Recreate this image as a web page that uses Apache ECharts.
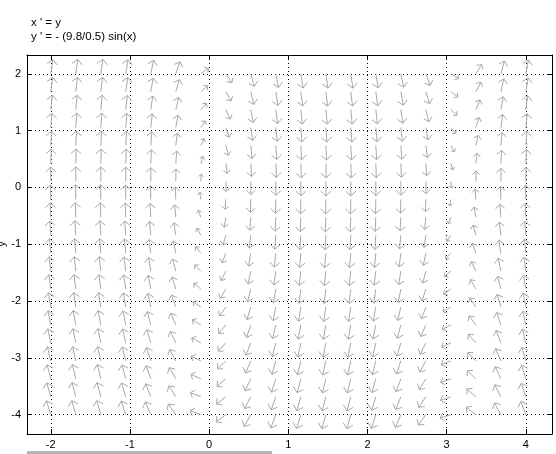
<!DOCTYPE html>
<html>
<head>
<meta charset="utf-8">
<script src="https://cdn.jsdelivr.net/npm/echarts@6/dist/echarts.min.js"></script>
<style>
  html, body { margin: 0; padding: 0; background: #ffffff; }
  #chart { width: 556px; height: 454px; }
</style>
</head>
<body>
<div id="chart"></div>
<script>
// ---- Data (pplane-style direction field) ----
const titleLines = ["x ' = y", "y ' = - (9.8/0.5) sin(x)"];
const axisNameY = "y";

// Arrow grid: column x positions and row y positions
const colX = [-2, -1.684, -1.368, -1.053, -0.737, -0.421, -0.105, 0.211, 0.526, 0.842,
              1.158, 1.474, 1.789, 2.105, 2.421, 2.737, 3.053, 3.368, 3.684, 4];
const rowY = [-4, -3.684, -3.368, -3.053, -2.737, -2.421, -2.105, -1.789, -1.474, -1.158,
              -0.842, -0.526, -0.211, 0.105, 0.421, 0.737, 1.053, 1.368, 1.684, 2];
// x' for each row (x' = y)
const rowXPrime = [-4, -3.684, -3.368, -3.053, -2.737, -2.421, -2.105, -1.789, -1.474, -1.158,
                   -0.842, -0.526, -0.211, 0.105, 0.421, 0.737, 1.053, 1.368, 1.684, 2];
// y' for each column (y' = -(9.8/0.5) sin(x))
const colYPrime = [17.82, 19.47, 19.20, 17.03, 13.17, 8.01, 2.06, -4.10, -9.85, -14.62,
                   -17.95, -19.51, -19.13, -16.87, -12.93, -7.72, -1.74, 4.41, 10.12, 14.83];

// Tick labels
const xTicks = [-2, -1, 0, 1, 2, 3, 4];
const yTicks = [-4, -3, -2, -1, 0, 1, 2];

// Axis window
const xRange = [-2.3, 4.33];
const yRange = [-4.34, 2.33];

// ---- Build the data table ----
const field = [];
for (let i = 0; i < colX.length; i++) {
  for (let j = 0; j < rowY.length; j++) {
    field.push([colX[i], rowY[j], rowXPrime[j], colYPrime[i]]);
  }
}

const ARROW_COLOR = '#a8a8a8';
const LMAX = 16.5, S0 = 150;

function renderArrow(params, api) {
  const x = api.value(0), y = api.value(1), vx = api.value(2), vy = api.value(3);
  const p0 = api.coord([x, y]);
  const p1 = api.coord([x + vx, y + vy]);
  const sx = p1[0] - p0[0], sy = p1[1] - p0[1];
  const S = Math.hypot(sx, sy);
  if (S === 0) return null;
  const ux = sx / S, uy = sy / S;
  const L = LMAX * S / (S + S0);
  const tip = [p0[0] + ux * L, p0[1] + uy * L];
  const back = 0.33 * L, lat = 0.35 * L;
  const w1 = [tip[0] - ux * back - uy * lat, tip[1] - uy * back + ux * lat];
  const w2 = [tip[0] - ux * back + uy * lat, tip[1] - uy * back - ux * lat];
  return {
    type: 'group',
    children: [
      { type: 'line', shape: { x1: p0[0], y1: p0[1], x2: tip[0], y2: tip[1] },
        style: { stroke: ARROW_COLOR, lineWidth: 1, fill: null } },
      { type: 'polyline', shape: { points: [w1, tip, w2] },
        style: { stroke: ARROW_COLOR, lineWidth: 1, fill: null } }
    ]
  };
}

const FONT = '"Liberation Sans", Arial, Helvetica, sans-serif';
const dotted = { show: true, lineStyle: { color: '#000', width: 1, type: [1, 3] } };
const frameLine = { show: true, onZero: false, lineStyle: { color: '#000', width: 1 } };
const tickIn = { show: true, inside: true, length: 5, lineStyle: { color: '#000', width: 1 } };

const chart = echarts.init(document.getElementById('chart'), null, { renderer: 'canvas' });
chart.setOption({
  animation: false,
  backgroundColor: '#ffffff',
  title: {
    text: titleLines.join('\n'),
    left: 31, top: 16, padding: 0,
    textStyle: { fontFamily: FONT, fontSize: 11.5, fontWeight: 'normal', color: '#000', lineHeight: 14 }
  },
  grid: { left: 27, top: 55, right: 4, bottom: 20, containLabel: false, outerBoundsMode: 'none' },
  xAxis: [
    {
      type: 'value', position: 'bottom', min: xRange[0], max: xRange[1],
      minInterval: 1, maxInterval: 1,
      axisLine: frameLine, axisTick: tickIn,
      axisLabel: {
        show: true, margin: 5, fontFamily: FONT, fontSize: 11, color: '#000',
        showMinLabel: false, showMaxLabel: false,
        formatter: v => (xTicks.some(t => Math.abs(t - v) < 1e-6) ? String(Math.round(v)) : '')
      },
      splitLine: dotted
    },
    {
      type: 'value', position: 'top', min: xRange[0], max: xRange[1],
      minInterval: 1, maxInterval: 1,
      axisLine: frameLine, axisTick: tickIn, axisLabel: { show: false }, splitLine: { show: false }
    }
  ],
  yAxis: [
    {
      type: 'value', position: 'left', min: yRange[0], max: yRange[1],
      minInterval: 1, maxInterval: 1,
      axisLine: frameLine, axisTick: tickIn,
      axisLabel: {
        show: true, margin: 6, fontFamily: FONT, fontSize: 11, color: '#000',
        showMinLabel: false, showMaxLabel: false,
        formatter: v => (yTicks.some(t => Math.abs(t - v) < 1e-6) ? String(Math.round(v)) : '')
      },
      splitLine: dotted
    },
    {
      type: 'value', position: 'right', min: yRange[0], max: yRange[1],
      minInterval: 1, maxInterval: 1,
      axisLine: frameLine, axisTick: tickIn, axisLabel: { show: false }, splitLine: { show: false }
    }
  ],
  graphic: [
    { type: 'rect', left: 27, top: 451, shape: { width: 245, height: 3 },
      style: { fill: '#b4b4b4' }, silent: true },
    { type: 'text', x: 2, y: 244, rotation: Math.PI / 2, silent: true,
      style: { text: axisNameY, font: '11px ' + FONT, fill: '#000',
               align: 'center', verticalAlign: 'middle' } }
  ],
  series: [
    {
      type: 'custom',
      xAxisIndex: 0, yAxisIndex: 0,
      renderItem: renderArrow,
      encode: { x: 0, y: 1 },
      data: field,
      clip: true,
      silent: true
    }
  ]
});
</script>
</body>
</html>
